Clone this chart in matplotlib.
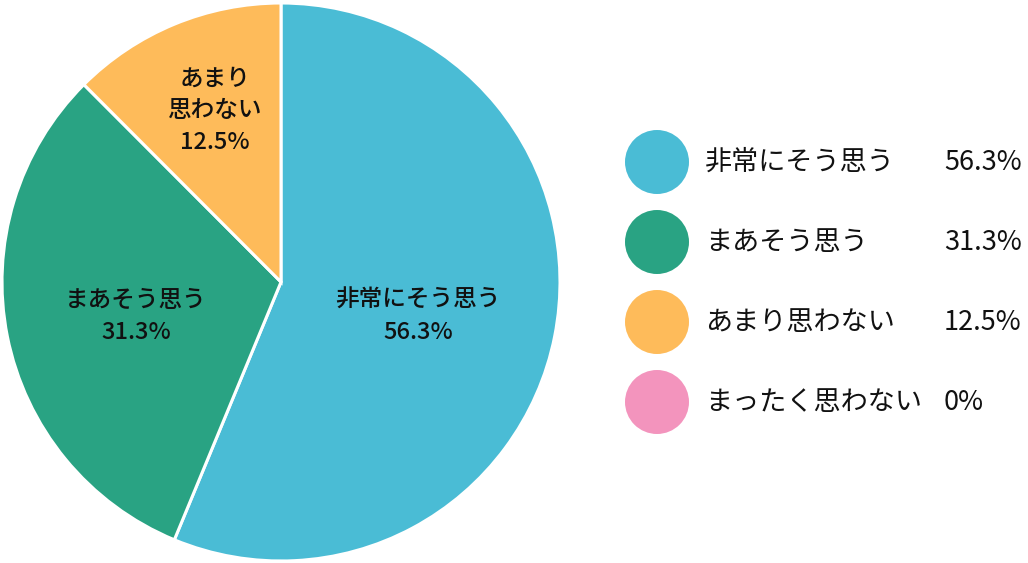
import matplotlib
matplotlib.use("Agg")
import matplotlib.pyplot as plt

plt.rcParams['font.family'] = ['Noto Sans CJK JP', 'DejaVu Sans']

# Data
categories = ['非常にそう思う', 'まあそう思う', 'あまり思わない', 'まったく思わない']
pie_labels = ['非常にそう思う', 'まあそう思う', 'あまり\n思わない', 'まったく思わない']
values = [56.3, 31.3, 12.5, 0.0]
value_labels = ['56.3%', '31.3%', '12.5%', '0%']
colors = ['#4ABCD5', '#29A383', '#FEBB5A', '#F394BD']

W, H = 1028, 563
fig = plt.figure(figsize=(W / 100, H / 100), dpi=100)

# pie, centre (281, 282), radius 279 px
cx, cy, r = 281, 282, 279
ax = fig.add_axes([(cx - r) / W, (H - cy - r) / H, 2 * r / W, 2 * r / H])
shown = [v for v in values if v > 0]
wedges, _ = ax.pie(shown, colors=colors[:len(shown)], startangle=90, counterclock=False,
                   radius=1.0, wedgeprops=dict(edgecolor='white', linewidth=2.2))
ax.set_xlim(-1, 1)
ax.set_ylim(-1, 1)
ax.set_aspect('equal')
ax.axis('off')

# in-slice label positions (relative to pie centre, in radii)
label_pos = [(0.491, -0.122), (-0.520, -0.122), (-0.237, 0.613)]
for i, v in enumerate(shown):
    x, y = label_pos[i]
    ax.text(x, y, pie_labels[i] + '\n' + value_labels[i], ha='center', va='center',
            fontsize=17, fontweight='medium', color='#111111', linespacing=1.5)

# legend drawn in pixel coordinates on the right
lax = fig.add_axes([0, 0, 1, 1])
lax.set_xlim(0, W)
lax.set_ylim(H, 0)
lax.axis('off')
for i, cat in enumerate(categories):
    y = 162 + i * 80
    lax.scatter([657], [y], s=(64 * 0.72) ** 2, color=colors[i], edgecolors='none')
    lax.text(705, y, cat, ha='left', va='center', fontsize=19.5, color='#111111')
    lax.text(944, y, value_labels[i], ha='left', va='center', fontsize=19.5, color='#111111')

fig.savefig('out.png', dpi=100)
